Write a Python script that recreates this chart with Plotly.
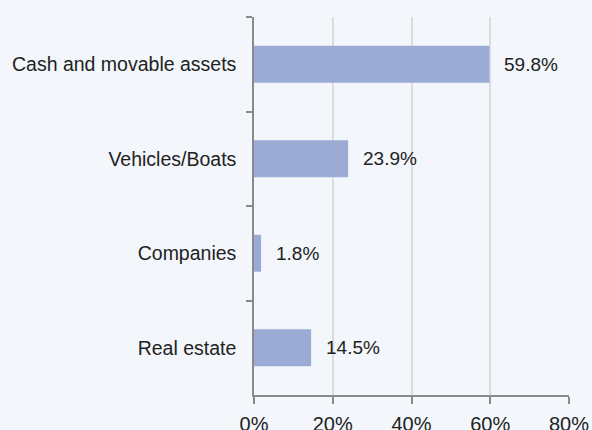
import plotly.graph_objects as go

categories = ["Cash and movable assets", "Vehicles/Boats", "Companies", "Real estate"]
values = [59.8, 23.9, 1.8, 14.5]
value_labels = ["59.8%", "23.9%", "1.8%", "14.5%"]
x_ticks = [0, 20, 40, 60, 80]
x_tick_labels = ["0%", "20%", "40%", "60%", "80%"]

BG = "#f3f6fb"
FONT = "Liberation Sans, Arial, sans-serif"

fig = go.Figure()
fig.add_trace(go.Bar(
    x=values, y=categories, orientation="h",
    marker=dict(color="#9cabd5", line=dict(width=0)),
    width=0.39, hoverinfo="skip",
))
for v, c, lbl in zip(values, categories, value_labels):
    fig.add_annotation(x=v, y=c, text=lbl, showarrow=False, xanchor="left",
                       xshift=13, font=dict(size=19, color="#222222", family=FONT))

fig.update_layout(
    width=592, height=430,
    margin=dict(l=254, r=23, t=17, b=35),
    paper_bgcolor=BG, plot_bgcolor=BG,
    showlegend=False,
    font=dict(family=FONT, size=19, color="#222222"),
    xaxis=dict(range=[0, 80], tickvals=x_ticks, ticktext=x_tick_labels,
               showgrid=True, gridcolor="#dcdbe0", gridwidth=1.5,
               showline=True, linecolor="#8a8a8a", linewidth=1.5,
               ticks="outside", ticklen=7, tickcolor="#8a8a8a", tickwidth=1.5,
               zeroline=False, tickfont=dict(size=20), ticklabelstandoff=3,
               automargin=False, fixedrange=True),
    yaxis=dict(autorange="reversed", type="category",
               showgrid=False, showline=True, linecolor="#8a8a8a", linewidth=1.5,
               ticks="outside", tickson="boundaries", ticklen=6,
               tickcolor="#8a8a8a", tickwidth=1.5,
               tickfont=dict(size=19.5), ticklabelstandoff=12,
               automargin=False, fixedrange=True),
)

fig.write_html(
    "out.html",
    config={"displayModeBar": False},
    post_script="document.body.style.margin='0';document.body.style.background='%s';" % BG,
)
